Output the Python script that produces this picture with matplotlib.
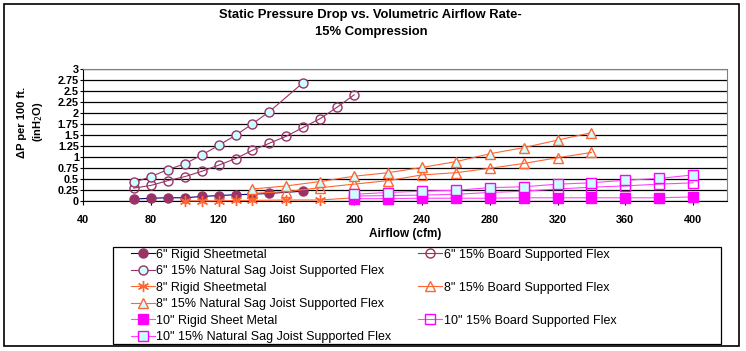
import matplotlib
matplotlib.use("Agg")
import matplotlib.pyplot as plt
from matplotlib.lines import Line2D
from matplotlib.patches import Rectangle

plt.rcParams["font.family"] = ["Liberation Sans", "DejaVu Sans"]

# ---- data (cfm, inH2O per 100 ft) ----
x6_rigid = [70, 80, 90, 100, 110, 120, 130, 140, 150, 170]
y6_rigid = [0.05, 0.07, 0.08, 0.08, 0.11, 0.13, 0.15, 0.16, 0.18, 0.23]

x6_board = [70, 80, 90, 100, 110, 120, 130, 140, 150, 160, 170, 180, 190, 200]
y6_board = [0.30, 0.36, 0.47, 0.56, 0.68, 0.82, 0.97, 1.16, 1.32, 1.48, 1.68, 1.88, 2.14, 2.42]

x6_sag = [70, 80, 90, 100, 110, 120, 130, 140, 150, 170]
y6_sag = [0.43, 0.56, 0.72, 0.85, 1.05, 1.27, 1.50, 1.76, 2.04, 2.70]

x8_rigid = [100, 110, 120, 130, 140, 160, 180, 200]
y8_rigid = [0.01, 0.01, 0.01, 0.02, 0.02, 0.03, 0.03, 0.08]

x8_board = [140, 160, 180, 200, 220, 240, 260, 280, 300, 320, 340]
y8_board = [0.18, 0.22, 0.31, 0.39, 0.47, 0.60, 0.65, 0.75, 0.86, 0.99, 1.11]

x8_sag = [140, 160, 180, 200, 220, 240, 260, 280, 300, 320, 340]
y8_sag = [0.28, 0.35, 0.45, 0.57, 0.65, 0.77, 0.90, 1.08, 1.22, 1.39, 1.56]

x10 = [200, 220, 240, 260, 280, 300, 320, 340, 360, 380, 400]
y10_rigid = [0.06, 0.06, 0.07, 0.07, 0.07, 0.08, 0.08, 0.08, 0.08, 0.08, 0.10]
y10_board = [0.12, 0.13, 0.14, 0.16, 0.20, 0.23, 0.28, 0.32, 0.35, 0.39, 0.42]
y10_sag = [0.16, 0.20, 0.23, 0.25, 0.31, 0.33, 0.39, 0.42, 0.48, 0.52, 0.60]

PLUM = "#993366"
NAVY = "#000080"
ORANGE = "#FF6633"
MAGENTA = "#FF00FF"
PINK = "#FF44FF"
CYAN = "#CCFFFF"

fig = plt.figure(figsize=(7.46, 3.51), dpi=100)
ax = fig.add_axes([83 / 746, 1 - 201.3 / 351, (727 - 83) / 746, (201.3 - 69.3) / 351])

lw = 0.8
series = [
    (x6_rigid, y6_rigid, dict(color=NAVY, marker="o", mfc=PLUM, mec=PLUM, ms=6.5),
     '6" Rigid Sheetmetal'),
    (x6_board, y6_board, dict(color=PLUM, marker="o", mfc="none", mec=PLUM, ms=6.5),
     '6" 15% Board Supported Flex'),
    (x6_sag, y6_sag, dict(color=PLUM, marker="o", mfc=CYAN, mec=PLUM, ms=6.5),
     '6" 15% Natural Sag Joist Supported Flex'),
    (x8_rigid, y8_rigid, dict(color=ORANGE, marker=(6, 2, 0), mfc=ORANGE, mec=ORANGE, ms=8),
     '8" Rigid Sheetmetal'),
    (x8_board, y8_board, dict(color=ORANGE, marker="^", mfc="none", mec=ORANGE, ms=7.5),
     '8" 15% Board Supported Flex'),
    (x8_sag, y8_sag, dict(color=ORANGE, marker="^", mfc=CYAN, mec=ORANGE, ms=7.5),
     '8" 15% Natural Sag Joist Supported Flex'),
    (x10, y10_rigid, dict(color=PINK, marker="s", mfc=MAGENTA, mec=MAGENTA, ms=6.5),
     '10" Rigid Sheet Metal'),
    (x10, y10_board, dict(color=PINK, marker="s", mfc="none", mec=MAGENTA, ms=7),
     '10" 15% Board Supported Flex'),
    (x10, y10_sag, dict(color=PINK, marker="s", mfc=CYAN, mec=MAGENTA, ms=7),
     '10" 15% Natural Sag Joist Supported Flex'),
]
handles = {}
for xs, ys, st, lab in series:
    (h,) = ax.plot(xs, ys, lw=lw, mew=1.0, label=lab, clip_on=False, zorder=3, **st)
    handles[lab] = h

ax.set_xlim(40, 420)
ax.set_ylim(0, 3)
ax.set_xticks(range(40, 401, 40))
ax.set_yticks([i * 0.25 for i in range(13)])
ax.set_yticklabels(["0", "0.25", "0.5", "0.75", "1", "1.25", "1.5", "1.75", "2",
                    "2.25", "2.5", "2.75", "3"])
ax.yaxis.grid(True, color="black", lw=0.9)
ax.set_axisbelow(True)
for s in ("top", "right"):
    ax.spines[s].set_color("#808080")
for s in ("left", "bottom"):
    ax.spines[s].set_color("black")
ax.tick_params(axis="both", direction="out", length=3, width=0.8, labelsize=7.8, pad=2)
ax.tick_params(axis="y", length=2, pad=1)
for t in ax.get_xticklabels() + ax.get_yticklabels():
    t.set_fontweight("bold")
ax.tick_params(axis="x", pad=7)

ax.set_xlabel("Airflow (cfm)", fontsize=8.5, fontweight="bold", labelpad=2)
fig.text(31 / 746, 1 - 122 / 351, "\u0394P per 100 ft.\n(inH$_2$O)", rotation=90,
         ha="center", va="center", fontsize=8, fontweight="bold", linespacing=1.35)

fig.text(0.497, 1 - 15 / 351, "Static Pressure Drop vs. Volumetric Airflow Rate-",
         ha="center", va="center", fontsize=9.4, fontweight="bold")
fig.text(0.497, 1 - 32 / 351, "15% Compression",
         ha="center", va="center", fontsize=9.4, fontweight="bold")

blank = Line2D([], [], linestyle="none")
order_left = ['6" Rigid Sheetmetal', '6" 15% Natural Sag Joist Supported Flex',
              '8" Rigid Sheetmetal', '8" 15% Natural Sag Joist Supported Flex',
              '10" Rigid Sheet Metal', '10" 15% Natural Sag Joist Supported Flex']
order_right = ['6" 15% Board Supported Flex', None, '8" 15% Board Supported Flex', None,
               '10" 15% Board Supported Flex', None]
hs, ls = [], []
for lab in order_left + order_right:
    if lab is None:
        hs.append(blank)
        ls.append(" ")
    else:
        hs.append(handles[lab])
        ls.append(lab)
leg = fig.legend(hs, ls, ncol=2, loc="upper left",
                 bbox_to_anchor=(127 / 746, 1 - 245 / 351),
                 fontsize=9, frameon=False,
                 handlelength=1.9, handletextpad=0.16, labelspacing=0.36, borderpad=0.3,
                 borderaxespad=0, columnspacing=2.1)

# legend box as drawn in the reference (wider than the entries)
fig.patches.append(Rectangle((113 / 746, 1 - 344 / 351), (721 - 113) / 746, (344 - 247) / 351,
                             transform=fig.transFigure, fill=False, edgecolor="black", lw=0.9))
# outer chart frame
fig.patches.append(Rectangle((4 / 746, 1 - 346 / 351), 735 / 746, 342 / 351,
                             transform=fig.transFigure, fill=False, edgecolor="black", lw=1.2))

fig.savefig("out.png", dpi=100)
